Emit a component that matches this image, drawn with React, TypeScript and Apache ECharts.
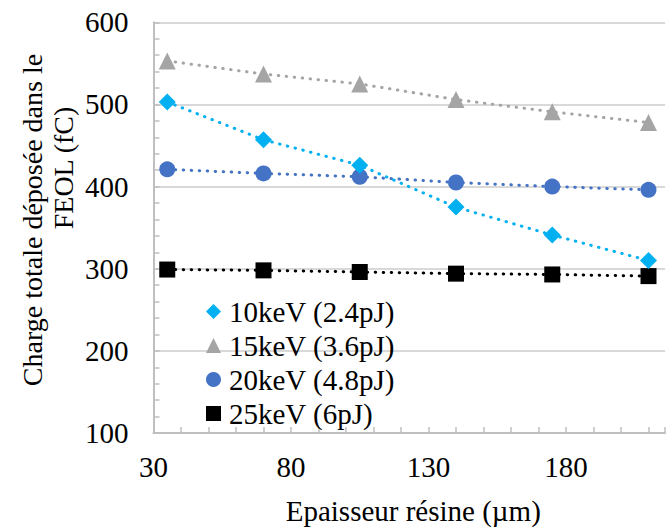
import React, { useEffect, useRef } from "react";
import * as echarts from "echarts";

const thickness = [35, 70, 105, 140, 175, 210];
const s10keV = [503, 457, 426, 375, 341, 310];
const s15keV = [553, 537, 525, 506, 491, 478];
const s20keV = [421, 416, 412, 405, 400, 396];
const s25keV = [299, 298, 296, 294, 293, 291];
const seriesNames = ["10keV (2.4pJ)", "15keV (3.6pJ)", "20keV (4.8pJ)", "25keV (6pJ)"];
const xTickLabels = [30, 80, 130, 180];
const yTickLabels = [100, 200, 300, 400, 500, 600];

const FONT = "'Liberation Serif', 'Times New Roman', serif";

export default function App() {
  const ref = useRef<HTMLDivElement>(null);
  useEffect(() => {
    if (!ref.current) return;
    const chart = echarts.init(ref.current, undefined, { renderer: "svg" });
    const colors = ["#00B0F0", "#A5A5A5", "#4472C4", "#000000"];
    const symbols = ["diamond", "triangle", "circle", "rect"];
    const sizes = [17, 17, 16, 16];
    const all = [s10keV, s15keV, s20keV, s25keV];
    const series = all.map((vals, i) => ({
      name: seriesNames[i],
      type: "line",
      data: thickness.map((x, j) => [x, vals[j]]),
      symbol: symbols[i],
      symbolSize: sizes[i],
      itemStyle: { color: colors[i] },
      lineStyle: { color: colors[i], width: 3, type: [0.5, 7.5], cap: "round" },
      z: 10 - i,
    }));
    chart.setOption({
      animation: false,
      textStyle: { fontFamily: FONT },
      grid: { left: 153.5, right: 0, top: 22.3, bottom: 95, containLabel: false },
      legend: {
        orient: "vertical",
        left: 206,
        top: 297,
        padding: 0,
        itemGap: 5,
        itemWidth: 15,
        itemHeight: 15,
        textStyle: { fontFamily: FONT, fontSize: 29, color: "#000", padding: [0, 0, 0, 3] },
        data: seriesNames.map((n, i) => ({ name: n, icon: symbols[i] })),
      },
      xAxis: {
        type: "value",
        min: 30,
        max: 216,
        interval: 50,
        name: "Epaisseur résine (µm)",
        nameLocation: "middle",
        nameGap: 63,
        nameTextStyle: { fontFamily: FONT, fontSize: 29, color: "#000", padding: [0, 0, 0, 8] },
        axisLine: { show: true, lineStyle: { color: "#BFBFBF", width: 2 } },
        axisTick: { show: true, inside: true, length: 6, lineStyle: { color: "#BFBFBF", width: 1.5 } },
        minorTick: { show: true, splitNumber: 5, length: 6, lineStyle: { color: "#BFBFBF", width: 1.5 } },
        axisLabel: {
          fontFamily: FONT,
          fontSize: 29,
          color: "#000",
          margin: 19,
          formatter: (v: number) => (xTickLabels.includes(v) ? String(v) : ""),
        },
        splitLine: { show: false },
      },
      yAxis: {
        type: "value",
        min: 100,
        max: 600,
        interval: 100,
        axisLine: { show: true, lineStyle: { color: "#BFBFBF", width: 2 } },
        axisTick: { show: true, inside: true, length: 6, lineStyle: { color: "#BFBFBF", width: 1.5 } },
        minorTick: { show: true, splitNumber: 5, length: 6, lineStyle: { color: "#BFBFBF", width: 1.5 } },
        axisLabel: {
          fontFamily: FONT,
          fontSize: 29,
          color: "#000",
          margin: 25,
          formatter: (v: number) => (yTickLabels.includes(v) ? String(v) : ""),
        },
        splitLine: { show: true, lineStyle: { color: "#D9D9D9", width: 2 } },
      },
      graphic: [
        {
          type: "text",
          x: 32,
          y: 220,
          rotation: Math.PI / 2,
          style: {
            text: "Charge totale déposée dans le",
            font: `28px ${FONT}`,
            fill: "#000",
            textAlign: "center",
            textVerticalAlign: "middle",
          },
        },
        {
          type: "text",
          x: 63,
          y: 168,
          rotation: Math.PI / 2,
          style: {
            text: "FEOL (fC)",
            font: `28px ${FONT}`,
            fill: "#000",
            textAlign: "center",
            textVerticalAlign: "middle",
          },
        },
      ],
      series,
    });
    return () => chart.dispose();
  }, []);
  return (
    <div
      ref={ref}
      style={{ position: "absolute", left: 0, top: 0, width: 668, height: 530 }}
    />
  );
}
